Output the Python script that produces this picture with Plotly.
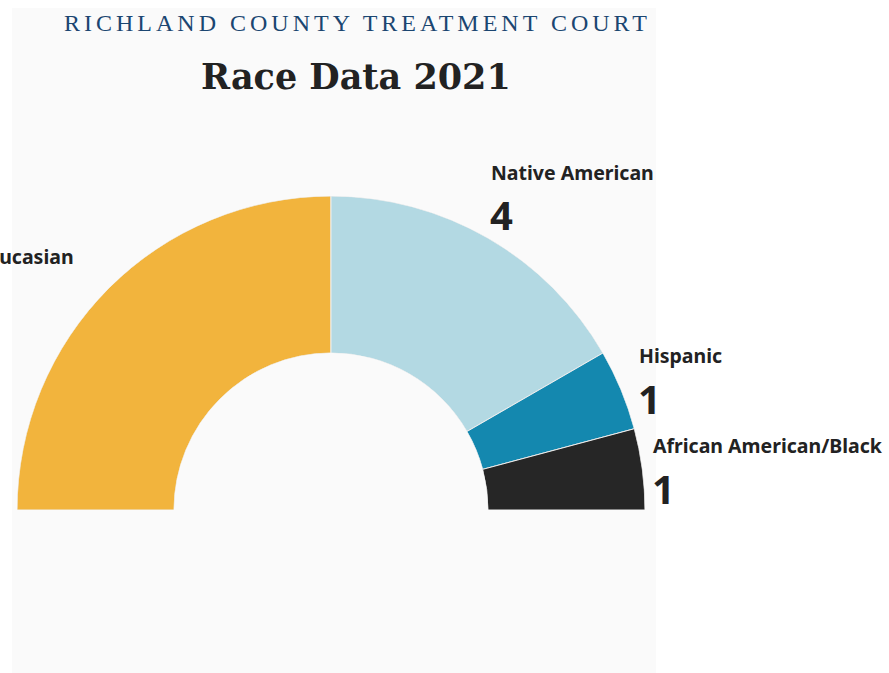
import plotly.graph_objects as go

# Race breakdown, 2021
categories = ["Caucasian", "Native American", "Hispanic", "African American/Black"]
counts = [6, 4, 1, 1]
colors = ["#F2B43D", "#B3D9E3", "#1488AF", "#262626"]

W, H = 889, 673
total = sum(counts)

# Semicircle: slices run clockwise from 180° (left) to 0° (right)
thetas, widths = [], []
start = 180.0
for c in counts:
    span = 180.0 * c / total
    thetas.append(start - span / 2)
    widths.append(span)
    start -= span

fig = go.Figure(
    go.Barpolar(
        r=[1] * len(counts),
        theta=thetas,
        width=widths,
        marker=dict(color=colors, line=dict(color="#eeeeee", width=1)),
        text=categories,
        hoverinfo="text",
        showlegend=False,
    )
)


def px(x):
    return x / W


def py(y):
    return 1 - y / H


fig.update_layout(
    width=W,
    height=H,
    margin=dict(l=0, r=0, t=0, b=0),
    paper_bgcolor="white",
    plot_bgcolor="white",
    polar=dict(
        domain=dict(x=[px(17), px(645)], y=[py(510), py(196)]),
        sector=[0, 180],
        hole=0.5,
        bgcolor="rgba(0,0,0,0)",
        radialaxis=dict(range=[0, 1], visible=False),
        angularaxis=dict(
            visible=False,
            direction="counterclockwise",
            rotation=0,
            showgrid=False,
            showline=False,
            ticks="",
            showticklabels=False,
        ),
    ),
    shapes=[
        dict(
            type="rect", xref="paper", yref="paper",
            x0=px(12), x1=px(656), y0=0, y1=py(8),
            fillcolor="#fafafa", line=dict(width=0), layer="below",
        )
    ],
)

annotations = [
    dict(text='<span style="letter-spacing:4px">RICHLAND COUNTY TREATMENT COURT</span>',
         x=px(357), y=py(23),
         font=dict(family="Liberation Serif", size=24, color="#1B4671"),
         xanchor="center", yanchor="middle"),
    dict(text="<b>Race Data 2021</b>", x=px(356), y=py(76),
         font=dict(family="DejaVu Serif", size=35, color="#222222"),
         xanchor="center", yanchor="middle"),
]

# Category labels with counts beneath; the Caucasian block sits left of
# the page edge, so its label is right-aligned and its count starts off-page
label_pos = [(-30, 256), (489, 172), (637, 355), (651, 445)]
for name, n, (lx, ly) in zip(categories, counts, label_pos):
    if name == "Caucasian":
        annotations.append(dict(
            text=f"<b>{name}</b>", x=px(76), y=py(ly),
            font=dict(family="Noto Sans", size=19.5, color="#222222"),
            xanchor="right", yanchor="middle"))
    else:
        annotations.append(dict(
            text=f"<b>{name}</b>", x=px(lx), y=py(ly),
            font=dict(family="Noto Sans", size=19.5, color="#222222"),
            xanchor="left", yanchor="middle"))
    annotations.append(dict(
        text=f"<b>{n}</b>", x=px(lx - 1), y=py(ly + 43),
        font=dict(family="Noto Sans", size=40, color="#222222"),
        xanchor="left", yanchor="middle"))

for a in annotations:
    a.update(xref="paper", yref="paper", showarrow=False)
fig.update_layout(annotations=annotations)

fig.write_html("out.html")
